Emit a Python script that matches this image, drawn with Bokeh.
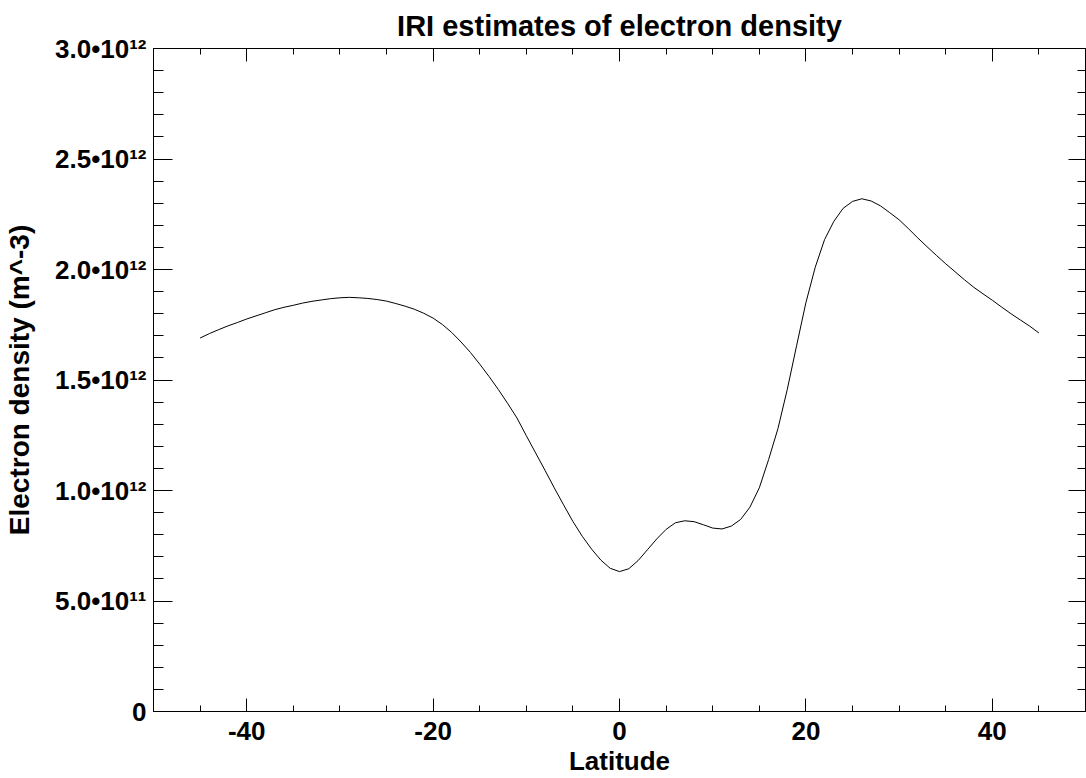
from bokeh.plotting import figure
from bokeh.models import LinearAxis, FixedTicker, CustomJSTickFormatter, Range1d
from bokeh.embed import file_html
from bokeh.resources import INLINE

# ---- data ----
latitude = list(range(-45, 46))  # degrees, 1-degree steps
density_1e12 = [
    # -45 .. -20
    1.690, 1.710, 1.728, 1.745, 1.760, 1.776, 1.790, 1.804, 1.818, 1.829,
    1.838, 1.848, 1.856, 1.862, 1.868, 1.872, 1.874, 1.872, 1.869, 1.864,
    1.857, 1.846, 1.834, 1.820, 1.802, 1.780,
    # -19 .. -1
    1.751, 1.715, 1.672, 1.625, 1.572, 1.516, 1.457, 1.394, 1.328, 1.248,
    1.170, 1.092, 1.012, 0.935, 0.860, 0.793, 0.735, 0.685, 0.648,
    # 0
    0.633,
    # 1 .. 15
    0.646, 0.683, 0.732, 0.781, 0.824, 0.854, 0.863, 0.859, 0.845, 0.830,
    0.826, 0.839, 0.869, 0.925, 1.012,
    # 16 .. 29
    1.140, 1.280, 1.457, 1.655, 1.850, 2.010, 2.135, 2.218, 2.277, 2.308,
    2.320, 2.310, 2.288, 2.257,
    # 30 .. 45
    2.225, 2.185, 2.143, 2.103, 2.064, 2.026, 1.990, 1.954, 1.920, 1.890,
    1.861, 1.830, 1.800, 1.772, 1.744, 1.713,
]
density = [v * 1e12 for v in density_1e12]

x_major_ticks = [-40, -20, 0, 20, 40]
x_tick_labels = ["-40", "-20", "0", "20", "40"]
x_minor_ticks = [-50, -45, -35, -30, -25, -15, -10, -5, 5, 10, 15, 25, 30, 35, 45, 50]
y_major_ticks = [0, 5e11, 1e12, 1.5e12, 2e12, 2.5e12, 3e12]
y_minor_ticks = [k * 1e11 for k in range(0, 31)]
y_tick_labels = ["0", "5.0\u202210\u00b9\u00b9", "1.0\u202210\u00b9\u00b2", "1.5\u202210\u00b9\u00b2",
                 "2.0\u202210\u00b9\u00b2", "2.5\u202210\u00b9\u00b2", "3.0\u202210\u00b9\u00b2"]

title_text = "IRI estimates of electron density"
x_label = "Latitude"
y_label = "Electron density (m^-3)"

FONT = "Liberation Sans"

p = figure(width=1086, height=778, output_backend="svg", toolbar_location=None,
           x_range=Range1d(-50, 50), y_range=Range1d(0, 3e12),
           x_axis_location=None, y_axis_location=None,
           min_border_left=153, min_border_right=1, min_border_top=47, min_border_bottom=67,
           title=title_text)
p.outline_line_color = None
p.grid.visible = False
p.background_fill_color = "white"
p.border_fill_color = "white"

p.title.align = "center"
p.title.text_font = FONT
p.title.text_font_style = "bold"
p.title.text_font_size = "29px"
p.title.text_color = "black"
p.title.text_line_height = 1.0
p.title.standoff = 14

xt = FixedTicker(ticks=x_major_ticks, minor_ticks=x_minor_ticks)
yt = FixedTicker(ticks=y_major_ticks, minor_ticks=y_minor_ticks)
lookup_code = """
for (let i = 0; i < vals.length; i++) { if (Math.abs(vals[i] - tick) < tol) return labs[i]; }
return '';
"""
xfmt = CustomJSTickFormatter(args=dict(vals=x_major_ticks, labs=x_tick_labels, tol=1e-6), code=lookup_code)
yfmt = CustomJSTickFormatter(args=dict(vals=y_major_ticks, labs=y_tick_labels, tol=1e9), code=lookup_code)
blank = CustomJSTickFormatter(code="return '';")


def style(ax, tick_in, minor_in, labels=True):
    ax.axis_line_color = "black"
    ax.axis_line_width = 1
    ax.major_tick_line_color = "black"
    ax.minor_tick_line_color = "black"
    ax.major_tick_in = tick_in
    ax.major_tick_out = 0
    ax.minor_tick_in = minor_in
    ax.minor_tick_out = 0
    ax.major_label_text_font = FONT
    ax.major_label_text_font_style = "bold"
    ax.major_label_text_color = "black"
    ax.axis_label_text_font = FONT
    ax.axis_label_text_font_style = "bold"
    ax.axis_label_text_color = "black"
    if labels:
        ax.major_label_text_font_size = "26px"
        ax.axis_label_text_font_size = "26px"
    else:
        ax.formatter = blank
        ax.major_label_text_font_size = "2px"
        ax.major_label_standoff = 0


xb = LinearAxis(ticker=xt, formatter=xfmt, axis_label=x_label)
style(xb, 13, 6)
xb.major_label_standoff = 10
xb.axis_label_standoff = 3
p.add_layout(xb, "below")

xa = LinearAxis(ticker=xt)
style(xa, 13, 6, labels=False)
p.add_layout(xa, "above")

yl = LinearAxis(ticker=yt, formatter=yfmt, axis_label=y_label)
style(yl, 19, 10)
yl.axis_label_text_font_size = "28px"
yl.major_label_standoff = 7
yl.axis_label_standoff = 17
p.add_layout(yl, "left")

yr = LinearAxis(ticker=yt)
style(yr, 17, 8, labels=False)
p.add_layout(yr, "right")

p.line(latitude, density, line_color="black", line_width=1)

open("out.html", "w").write(file_html(p, INLINE))
